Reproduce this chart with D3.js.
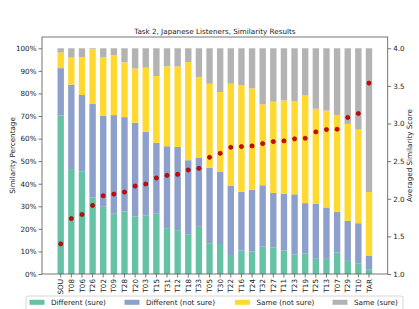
<!DOCTYPE html>
<html>
<head>
<meta charset="utf-8">
<script src="https://cdn.jsdelivr.net/npm/d3@7"></script>
<style>
  body { margin: 0; background: #fff; }
  text { font-family: "DejaVu Sans", sans-serif; fill: #222; }
</style>
</head>
<body>
<div id="chart"></div>
<script>
// speakers, ordered by averaged score
let categories = ['SOU', 'T08', 'T06', 'T26', 'T02', 'T09', 'T28', 'T20', 'T03', 'T15',
  'T31', 'T12', 'T18', 'T33', 'T05', 'T30', 'T22', 'T16', 'T24', 'T32',
  'T27', 'T11', 'T23', 'T19', 'T25', 'T13', 'T07', 'T29', 'T10', 'TAR']

// answer shares in percent
let diffSure = [70.2, 46.5, 45.5, 33.9, 29.8, 26.7, 27.7, 25.5, 25.9, 26.7,
  20.3, 19.4, 17.6, 20.9, 13.6, 13.3, 8.4, 10.4, 9.9, 12.1,
  11.7, 10.4, 8.7, 9.0, 6.7, 6.7, 9.5, 5.8, 4.6, 2.1]
let diffNotSure = [21.0, 37.4, 33.8, 41.4, 40.4, 43.7, 41.8, 41.5, 37.1, 31.4,
  36.3, 36.9, 32.8, 30.7, 33.4, 31.9, 30.7, 26.0, 27.4, 27.2,
  24.2, 25.2, 26.6, 22.4, 24.4, 22.8, 18.1, 17.8, 17.9, 5.9]
let sameNotSure = [6.9, 12.0, 16.8, 24.3, 25.8, 26.6, 24.3, 24.0, 28.4, 29.6,
  35.4, 35.7, 43.5, 35.6, 37.3, 35.4, 45.2, 47.3, 44.9, 35.8,
  40.4, 41.3, 41.3, 47.7, 42.1, 42.9, 42.8, 42.9, 41.5, 28.3]
let sameSure = [1.9, 4.1, 3.9, 0.4, 4.0, 3.0, 6.2, 9.0, 8.6, 12.3,
  8.0, 8.0, 6.1, 12.8, 15.7, 19.4, 15.7, 16.3, 17.8, 24.9,
  23.7, 23.1, 23.4, 20.9, 26.8, 27.6, 29.6, 33.5, 36.0, 63.7]

// averaged similarity score (right axis)
let scores = [1.40, 1.737, 1.791, 1.911, 2.04, 2.062, 2.089, 2.169, 2.196, 2.276,
  2.311, 2.324, 2.382, 2.404, 2.551, 2.604, 2.684, 2.693, 2.702, 2.733,
  2.76, 2.769, 2.796, 2.804, 2.889, 2.92, 2.924, 3.08, 3.133, 3.537]

let seriesNames = ['Different (sure)', 'Different (not sure)', 'Same (not sure)', 'Same (sure)']
let colors = ['#66c2a5', '#8da0cb', '#ffd92f', '#b3b3b3']
let leftTicks = d3.range(0, 101, 10)
let rightTicks = [1.0, 1.5, 2.0, 2.5, 3.0, 3.5, 4.0]

let width = 419
let height = 309
let margin = { top: 37, right: 31.3, bottom: 35, left: 42 }
let fs = 7.2

let svg = d3.select('#chart')
  .append('svg')
  .attr('width', width)
  .attr('height', height)

let x = d3.scaleBand()
  .domain(categories)
  .range([margin.left, width - margin.right])
  .paddingInner(0.4)
  .paddingOuter(1.46)

let y = d3.scaleLinear()
  .domain([0, 105])
  .range([height - margin.bottom, margin.top])

let y2 = d3.scaleLinear()
  .domain([1, 4.15])
  .range([height - margin.bottom, margin.top])

// build the stack table
let table = categories.map((c, i) => ({
  cat: c,
  s0: diffSure[i],
  s1: diffNotSure[i],
  s2: sameNotSure[i],
  s3: sameSure[i]
}))
let stacked = d3.stack().keys(['s0', 's1', 's2', 's3'])(table)

svg.append('g')
  .selectAll('g')
  .data(stacked)
  .enter()
  .append('g')
  .attr('fill', (d, i) => colors[i])
  .selectAll('rect')
  .data(d => d)
  .enter()
  .append('rect')
  .attr('x', d => x(d.data.cat))
  .attr('width', x.bandwidth())
  .attr('y', d => y(d[1]))
  .attr('height', d => y(d[0]) - y(d[1]))

// score dots
svg.append('g')
  .selectAll('circle')
  .data(scores)
  .enter()
  .append('circle')
  .attr('cx', (d, i) => x(categories[i]) + x.bandwidth() / 2)
  .attr('cy', d => y2(d))
  .attr('r', 2.1)
  .attr('fill', '#e00000')
  .attr('stroke', '#7a0000')
  .attr('stroke-width', 0.6)

// axes
let leftAxis = svg.append('g')
  .attr('transform', `translate(${margin.left},0)`)
  .call(d3.axisLeft(y).tickValues(leftTicks).tickFormat(d => d + '%').tickSizeOuter(0).tickSize(3.5).tickPadding(2))

let rightAxis = svg.append('g')
  .attr('transform', `translate(${width - margin.right},0)`)
  .call(d3.axisRight(y2).tickValues(rightTicks).tickFormat(d3.format('.1f')).tickSizeOuter(0).tickSize(3.5).tickPadding(2))

let bottomAxis = svg.append('g')
  .attr('transform', `translate(0,${height - margin.bottom})`)
  .call(d3.axisBottom(x).tickSizeOuter(0).tickSize(3.5))

bottomAxis.selectAll('text')
  .attr('transform', 'rotate(-90)')
  .attr('x', -5)
  .attr('y', 0)
  .attr('dy', '0.35em')
  .style('text-anchor', 'end')

svg.selectAll('.domain').remove()
svg.selectAll('.tick line').attr('stroke', '#555').attr('stroke-width', 0.8)
svg.selectAll('.tick text').style('font-size', fs + 'px').style('font-family', '"DejaVu Sans", sans-serif').attr('fill', '#222')

// frame
svg.append('rect')
  .attr('x', margin.left)
  .attr('y', margin.top)
  .attr('width', width - margin.left - margin.right)
  .attr('height', height - margin.top - margin.bottom)
  .attr('fill', 'none')
  .attr('stroke', '#555')
  .attr('stroke-width', 0.8)

// title and axis labels
svg.append('text')
  .attr('x', (margin.left + width - margin.right) / 2)
  .attr('y', 34)
  .attr('text-anchor', 'middle')
  .style('font-size', fs + 'px')
  .text('Task 2, Japanese Listeners, Similarity Results')

let midY = (margin.top + height - margin.bottom) / 2
svg.append('text')
  .attr('transform', `translate(14.5,${midY}) rotate(-90)`)
  .attr('text-anchor', 'middle')
  .style('font-size', fs + 'px')
  .text('Similarity Percentage')

svg.append('text')
  .attr('transform', `translate(412,${midY}) rotate(-90)`)
  .attr('text-anchor', 'middle')
  .style('font-size', fs + 'px')
  .text('Averaged Similarity Score')

// legend
let legend = svg.append('g')
legend.append('rect')
  .attr('x', 26)
  .attr('y', 296)
  .attr('width', 377)
  .attr('height', 20)
  .attr('rx', 2)
  .attr('fill', '#fff')
  .attr('stroke', '#ccc')
  .attr('stroke-width', 0.8)

let legendX = [29.5, 124.5, 235, 332.5]
seriesNames.forEach((name, i) => {
  legend.append('rect')
    .attr('x', legendX[i])
    .attr('y', 299.8)
    .attr('width', 15)
    .attr('height', 5)
    .attr('fill', colors[i])
  legend.append('text')
    .attr('x', legendX[i] + 21.5)
    .attr('y', 305)
    .style('font-size', fs + 'px')
    .text(name)
})
</script>
</body>
</html>
